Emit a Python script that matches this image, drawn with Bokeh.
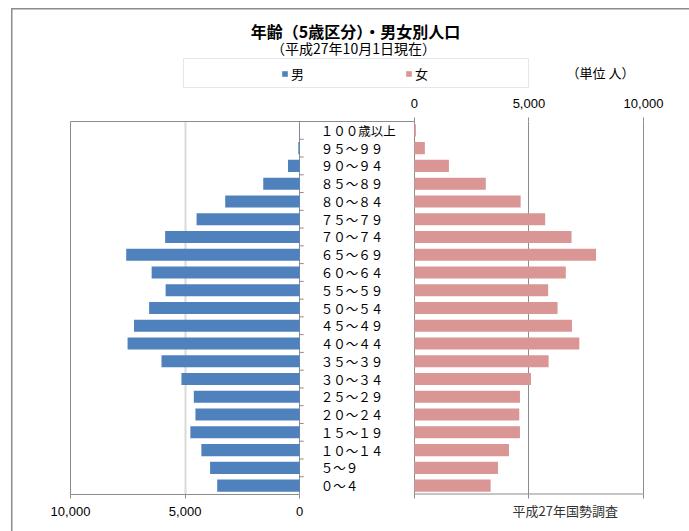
from bokeh.plotting import figure
from bokeh.layouts import column
from bokeh.models import (Range1d, LinearAxis, FixedTicker, Grid, Label, Title,
                          Legend, LegendItem, BoxAnnotation, ColumnDataSource)
from bokeh.core.properties import value
from bokeh.embed import file_html
from bokeh.resources import INLINE

# ---------------- data ----------------
age_groups = ["１００歳以上", "９５～９９", "９０～９４", "８５～８９", "８０～８４", "７５～７９",
              "７０～７４", "６５～６９", "６０～６４", "５５～５９", "５０～５４", "４５～４９",
              "４０～４４", "３５～３９", "３０～３４", "２５～２９", "２０～２４", "１５～１９",
              "１０～１４", "５～９", "０～４"]
male = [10, 60, 510, 1590, 3250, 4500, 5870, 7570, 6460, 5850, 6570,
        7230, 7510, 6030, 5160, 4620, 4550, 4770, 4290, 3910, 3600]
female = [70, 460, 1510, 3120, 4640, 5710, 6860, 7930, 6610, 5840, 6250,
          6880, 7200, 5860, 5090, 4610, 4580, 4610, 4130, 3650, 3330]
axis_ticks = [0, 5000, 10000]
tick_labels = ["0", "5,000", "10,000"]
title_text = "年齢（5歳区分）・男女別人口"
subtitle_text = "（平成27年10月1日現在）"
unit_text = "（単位 人）"
source_text = "平成27年国勢調査"
series_names = ["男", "女"]

# ---------------- style ----------------
BLUE = "#4F81BD"
PINK = "#D99694"
GRAY = "#8C8C8C"
LIGHT = "#D9D9D9"
JP = "Noto Sans CJK JP"
NUM = "Liberation Sans"
AXIS_MAX = 10000
GAP = 5000
W = 689
TOP_H = 92
MAIN_H = 439
FRAME_L, FRAME_R = 70, 643
n = len(age_groups)
row_y = [n - i - 0.5 for i in range(n)]          # row centres, top row first

src = ColumnDataSource(dict(cat=age_groups, y=row_y, female=female,
                            mleft=[-v for v in male]))

# ================= header (title, legend) =================
ph = figure(width=W, height=TOP_H, output_backend="svg", toolbar_location=None,
            x_range=Range1d(FRAME_L, FRAME_R), y_range=Range1d(TOP_H, 0),
            x_axis_location=None, y_axis_location=None,
            min_border_left=FRAME_L, min_border_right=W - FRAME_R,
            min_border_top=0, min_border_bottom=0)
ph.outline_line_color = None
ph.grid.visible = False
ph.background_fill_color = None
ph.border_fill_color = None

def header_label(x, y, text, size, bold=False, align="center"):
    ph.add_layout(Label(x=x, y=y, text=text, text_align=align, text_baseline="middle",
                        text_font=JP, text_font_size=size,
                        text_font_style="bold" if bold else "normal",
                        text_color="#000000"))

header_label(355, 30, title_text, "16px", bold=True)
header_label(353, 47, subtitle_text, "14px")
header_label(566, 72, unit_text, "13px", align="left")

# legend swatches: hidden copies of the bar renderers
dm = ph.hbar(y="y", left="mleft", right=0, height=0.68, fill_color=BLUE, line_color=None,
             source=src, visible=False)
df = ph.hbar(y="y", left=0, right="female", height=0.68, fill_color=PINK, line_color=None,
             source=src, visible=False)
legend = Legend(items=[LegendItem(label=series_names[0], renderers=[dm]),
                       LegendItem(label=series_names[1], renderers=[df])],
                orientation="horizontal", location=(281 - FRAME_L, TOP_H - 83),
                padding=0, margin=0, spacing=94, glyph_width=7, glyph_height=7,
                label_standoff=3, label_height=20, border_line_color=None,
                background_fill_alpha=0, inactive_fill_alpha=0,
                label_text_font=JP, label_text_font_size="13px",
                label_text_color="#000000", click_policy="none")
ph.add_layout(legend)
ph.add_layout(BoxAnnotation(left=183, right=528, top=58, bottom=87,
                            fill_alpha=0, line_color="#95B3D7", line_width=1))

# ================= main pyramid =================
p = figure(width=W, height=MAIN_H, output_backend="svg", toolbar_location=None,
           x_range=Range1d(-AXIS_MAX, AXIS_MAX + GAP), y_range=Range1d(0, n),
           x_axis_location=None, y_axis_location=None,
           min_border_left=FRAME_L, min_border_right=W - FRAME_R,
           min_border_top=29, min_border_bottom=37)
p.extra_x_ranges = {"fem": Range1d(-AXIS_MAX - GAP, AXIS_MAX)}
p.outline_line_color = None
p.grid.visible = False
p.background_fill_color = "white"
p.border_fill_color = None

p.add_layout(Grid(dimension=0, ticker=FixedTicker(ticks=[-axis_ticks[1]]),
                  grid_line_color=LIGHT, grid_line_width=2))
p.add_layout(Grid(dimension=0, ticker=FixedTicker(ticks=[0]), grid_line_color=GRAY))
p.add_layout(Grid(dimension=0, ticker=FixedTicker(ticks=axis_ticks), x_range_name="fem",
                  grid_line_color=GRAY))

def style_axis(ax, standoff):
    ax.axis_line_color = GRAY
    ax.major_tick_line_color = GRAY
    ax.major_tick_out = 4
    ax.major_tick_in = 0
    ax.minor_tick_line_color = None
    ax.major_label_standoff = standoff
    ax.major_label_text_font = NUM
    ax.major_label_text_font_size = "13px"
    ax.major_label_text_color = "#000000"

bottom_ticks = [-t for t in axis_ticks] + [GAP + t for t in axis_ticks]
overrides = {-t: lab for t, lab in zip(axis_ticks, tick_labels)}
overrides.update({GAP + t: "" for t in axis_ticks})
bax = LinearAxis(ticker=FixedTicker(ticks=bottom_ticks), bounds=(-AXIS_MAX, 0),
                 major_label_overrides=overrides)
style_axis(bax, 8)
p.add_layout(bax, "below")

tax = LinearAxis(x_range_name="fem", ticker=FixedTicker(ticks=axis_ticks),
                 bounds=(-AXIS_MAX - GAP, 0),
                 major_label_overrides={t: lab for t, lab in zip(axis_ticks, tick_labels)})
style_axis(tax, 10)
p.add_layout(tax, "above")

for loc in ("left", "right"):
    ax = LinearAxis(ticker=FixedTicker(ticks=[]))
    style_axis(ax, 0)
    ax.major_tick_line_color = None
    ax.major_label_text_font_size = "0px"
    p.add_layout(ax, loc)

# source note, in the row of the bottom tick labels
p.add_layout(Title(text=source_text, align="left", offset=442, vertical_align="top",
                   standoff=-36, text_font=JP, text_font_size="13px",
                   text_font_style="normal", text_color="#333333"), "below")

p.segment(x0=0, x1=AXIS_MAX, y0=0, y1=0, x_range_name="fem",
          line_color=GRAY, line_width=2)

p.hbar(y="y", left="mleft", right=0, height=0.68, fill_color=BLUE, line_color=None,
       source=src)
p.hbar(y="y", left=0, right="female", height=0.68, fill_color=PINK, line_color=None,
       source=src, x_range_name="fem")

bsrc = ColumnDataSource(dict(y=list(range(1, n))))
p.ray(x=0, y="y", length=4, length_units="screen", angle=0, line_color=GRAY, source=bsrc)

p.text(x=0, y="y", text="cat", source=src, x_offset=21, text_align="left",
       text_baseline="middle", text_font=value(JP), text_font_size="12.5px",
       text_color="#000000")

border_css = ("linear-gradient(#8c8c8c, #8c8c8c) 11px 8px / 100% 1.5px no-repeat, "
              "linear-gradient(#8c8c8c, #8c8c8c) 11px 8px / 1.5px 100% no-repeat, #ffffff")
layout = column(ph, p, spacing=0, styles={"background": border_css})

open("out.html", "w").write(file_html(layout, INLINE))
